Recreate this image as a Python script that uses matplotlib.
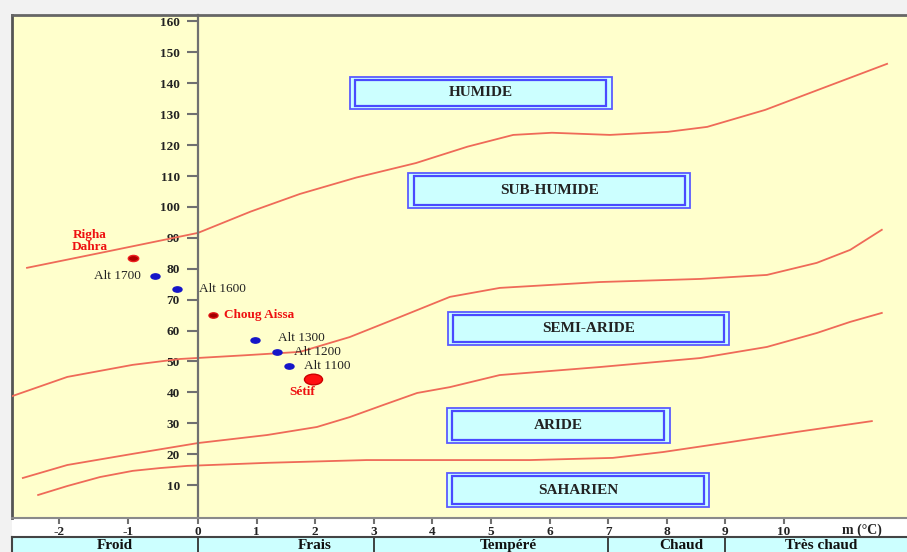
import numpy as np
import matplotlib.pyplot as plt
from matplotlib import transforms
from matplotlib.path import Path
from matplotlib.patches import Rectangle

plt.rcParams['font.family'] = ['Liberation Serif', 'DejaVu Serif']
plt.rcParams['axes.unicode_minus'] = False

# limites entre étages bioclimatiques : m (°C) et Q2
humide_m = [-2.46, -1.41, 0.0, 0.9, 1.74, 2.7, 3.72, 4.6, 5.38, 6.04, 7.03, 8.02, 8.69, 9.68, 10.67, 11.76]
humide_q = [80.3, 85.1, 91.6, 98.5, 104.2, 109.5, 114.2, 119.5, 123.3, 124.0, 123.3, 124.3, 125.9, 131.4, 138.5, 146.3]

subhum_m = [-2.71, -1.88, -0.94, -0.26, 0.8, 1.74, 2.59, 3.45, 4.30, 5.15, 6.86, 8.57, 9.71, 10.56, 11.13, 11.67]
subhum_q = [38.5, 45.0, 48.9, 50.8, 52.0, 53.1, 57.9, 64.4, 70.9, 73.8, 75.7, 76.7, 78.0, 81.9, 86.1, 92.6]

semiar_m = [-2.52, -1.88, -0.94, 0.0, 1.18, 2.03, 2.59, 3.16, 3.74, 4.30, 5.15, 6.86, 8.57, 9.71, 10.56, 11.13, 11.67]
semiar_q = [12.3, 16.5, 20.1, 23.6, 26.2, 28.8, 32.0, 35.9, 39.8, 41.7, 45.6, 48.2, 51.1, 54.7, 59.2, 62.8, 65.7]

aride_m = [-2.30, -1.88, -1.41, -0.94, -0.55, -0.16, 1.18, 2.88, 4.30, 5.67, 7.08, 7.94, 9.08, 10.22, 11.50]
aride_q = [6.8, 9.7, 12.6, 14.6, 15.5, 16.2, 17.2, 18.1, 18.1, 18.1, 18.8, 20.7, 23.9, 27.2, 30.7]

limites = [(humide_m, humide_q), (subhum_m, subhum_q), (semiar_m, semiar_q), (aride_m, aride_q)]

# stations et altitudes
stations = ['Righa\nDahra', 'Alt 1700', 'Alt 1600', 'Choug Aissa', 'Alt 1300', 'Alt 1200', 'Alt 1100', 'Sétif']
st_m = [-0.94, -0.62, -0.30, 0.26, 0.97, 1.35, 1.55, 1.96]
st_q = [83.5, 77.7, 73.5, 65.0, 57.0, 53.1, 48.5, 44.3]

etages = ['HUMIDE', 'SUB-HUMIDE', 'SEMI-ARIDE', 'ARIDE', 'SAHARIEN']
hivers = ['Froid', 'Frais', 'Tempéré', 'Chaud', 'Très chaud']
bornes_hiver = [0, 3, 7, 9]

# cadres des étages (x0, x1, y0, y1)
cadres = [(2.59, 7.06, 131.7, 142.1), (3.59, 8.40, 99.7, 111.0), (4.27, 9.06, 55.3, 66.0),
          (4.25, 8.05, 23.6, 35.0), (4.25, 8.72, 2.9, 13.9)]

# style des points : (couleur, bord, largeur, décalage étiquette, ha, couleur texte, gras)
styles = [
    ('#b00000', '#ee2020', 7.5, (-31, 12), 'center', '#ee1111', 'bold'),
    ('#1515c8', '#1515c8', 6.5, (-10, 0), 'right', '#222222', 'normal'),
    ('#1515c8', '#1515c8', 6.5, (16, 0), 'left', '#222222', 'normal'),
    ('#a00000', '#dd1010', 6.5, (8, 0), 'left', '#ee1111', 'bold'),
    ('#1515c8', '#1515c8', 6.5, (17, 1.5), 'left', '#222222', 'normal'),
    ('#1515c8', '#1515c8', 6.5, (12, 0), 'left', '#222222', 'normal'),
    ('#1515c8', '#1515c8', 6.5, (11, 0), 'left', '#222222', 'normal'),
    ('#ff1010', '#cc0000', 13, (-8, -9), 'center', '#ee1111', 'bold'),
]

W, H = 907, 552


def fx(px):
    return px / W


def fy(py):
    return 1 - py / H


k = 69.5 / 58.6


def fwd(x):
    x = np.asarray(x, dtype=float)
    return np.where(x < 0, x * k, x)


def inv(x):
    x = np.asarray(x, dtype=float)
    return np.where(x < 0, x / k, x)


fig = plt.figure(figsize=(W / 100, H / 100), dpi=100, facecolor='#f2f2f2')

# bande blanche des graduations
fig.add_artist(Rectangle((fx(12), fy(537)), 1 - fx(12), fy(518) - fy(537),
                         transform=fig.transFigure, fc='white', ec='none', zorder=-1))

ax = fig.add_axes([fx(12), fy(518), 1 - fx(12), fy(15) - fy(518)])
ax.set_facecolor('#ffffcc')
ax.set_xscale('function', functions=(fwd, inv))
ax.set_xlim(-2.676, 12.10)
ax.set_ylim(-0.65, 162.1)

ax.spines['right'].set_visible(False)
ax.spines['left'].set_position(('data', 0))
ax.spines['left'].set_color('#707070')
ax.spines['left'].set_linewidth(1.6)
ax.spines['top'].set_color('#666666')
ax.spines['top'].set_linewidth(2)
ax.spines['bottom'].set_color('#8a8a8a')
ax.spines['bottom'].set_linewidth(1.5)
ax.plot([0, 0], [0, 1], transform=ax.transAxes, color='#555555', lw=2, clip_on=False)

ax.set_yticks(range(10, 161, 10))
ax.set_xticks(range(-2, 11))
ax.tick_params(axis='y', direction='out', length=8, width=1.5, color='#707070',
               pad=5, labelsize=9.5, labelcolor='#222222')
ax.tick_params(axis='x', direction='out', length=4.5, width=1.5, color='#707070',
               pad=1.5, labelsize=9.5, labelcolor='#222222')
for lab in ax.get_xticklabels() + ax.get_yticklabels():
    lab.set_fontweight('bold')

for lm, lq in limites:
    ax.plot(lm, lq, color='#ef6a58', lw=1.3, zorder=2)

for nom, (x0, x1, y0, y1) in zip(etages, cadres):
    ax.add_patch(Rectangle((x0, y0), x1 - x0, y1 - y0, fc='#ccffff', ec='#5a5aff', lw=1.3, zorder=3))
    ax.add_patch(Rectangle((x0 + 0.09, y0 + 0.9), x1 - x0 - 0.18, y1 - y0 - 1.8,
                           fill=False, ec='#4a4aff', lw=1.6, zorder=3))
    ax.text((x0 + x1) / 2, (y0 + y1) / 2, nom, ha='center', va='center',
            fontsize=11, fontweight='bold', color='#222222', zorder=4)

ellipse = Path.unit_circle().transformed(transforms.Affine2D().scale(1.7, 1.0))
for nom, m, q, st in zip(stations, st_m, st_q, styles):
    fc, ec, ms, off, ha, tc, fw = st
    ax.plot([m], [q], linestyle='none', marker=ellipse, markersize=ms,
            markerfacecolor=fc, markeredgecolor=ec, markeredgewidth=1, zorder=5)
    ax.annotate(nom, (m, q), xytext=off, textcoords='offset points', ha=ha, va='center',
                fontsize=9.5, fontweight=fw, color=tc, linespacing=1.05, zorder=5)

ax.text(11.33, fy(530), 'm (°C)', transform=transforms.blended_transform_factory(ax.transData, fig.transFigure),
        ha='center', va='center', fontsize=10, fontweight='bold', color='#222222')

# bande des types d'hiver
band = fig.add_axes([fx(12), -0.03, 1 - fx(12), fy(537) + 0.03])
band.set_facecolor('#ccffff')
band.set_xscale('function', functions=(fwd, inv))
band.set_xlim(-2.676, 12.10)
band.set_ylim(0, 1)
band.set_xticks([])
band.set_yticks([])
for s in ['bottom', 'right']:
    band.spines[s].set_visible(False)
for s in ['top', 'left']:
    band.spines[s].set_color('#444444')
    band.spines[s].set_linewidth(1.5)
for b in bornes_hiver:
    band.axvline(b, color='#333333', lw=1.3)

bt = transforms.blended_transform_factory(band.transData, fig.transFigure)
pos_hiver = [(-1.2, 'center'), (2.0, 'center'), (5.3, 'center'), (8.25, 'center'), (10.02, 'left')]
for nom, (x, ha) in zip(hivers, pos_hiver):
    band.text(x, fy(549), nom, transform=bt, ha=ha, va='baseline', fontsize=11,
              fontweight='bold', color='#111111')

fig.savefig('out.png', dpi=100, facecolor=fig.get_facecolor())
